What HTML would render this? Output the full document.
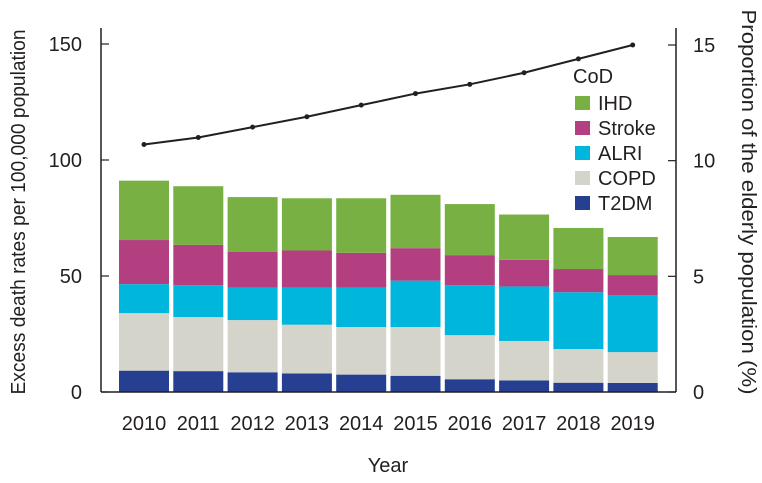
<!DOCTYPE html>
<html><head><meta charset="utf-8"><style>
html,body{margin:0;padding:0;background:#fff;}
svg{display:block;font-family:"Liberation Sans",sans-serif;}
</style></head><body>
<svg id="chart" width="762" height="483"></svg>
<script>
const years=["2010","2011","2012","2013","2014","2015","2016","2017","2018","2019"];
const t2dm=[9.2,9,8.5,8,7.5,7,5.5,5,4,3.9];
const copd=[24.8,23.3,22.5,21,20.5,21,19,17,14.5,13.3];
const alri=[12.5,13.7,14,16,17,20,21.5,23.5,24.5,24.6];
const stroke=[19,17.4,15.5,16,15,14,13,11.5,10,8.6];
const ihd=[25.6,25.3,23.5,22.5,23.5,23,22,19.5,17.7,16.4];
const elderly=[10.7,11.0,11.45,11.9,12.4,12.9,13.3,13.8,14.4,15.0];
const leftTicks=[0,50,100,150];
const rightTicks=[0,5,10,15];
const seriesNames=["IHD","Stroke","ALRI","COPD","T2DM"];
const seriesColors=["#78b043","#b33f80","#00b6dd","#d4d4cb","#263f90"];

const NS="http://www.w3.org/2000/svg";
const svg=document.getElementById('chart');
function el(t,a,txt){const e=document.createElementNS(NS,t);for(const k in a)e.setAttribute(k,a[k]);if(txt!==undefined)e.textContent=txt;svg.appendChild(e);return e;}
const y0=392,pxPerUnit=(392-160)/100;
function yL(v){return y0-v*pxPerUnit;}
function yR(v){return y0-v*(392-45)/15;}
function xC(i){return 144+i*54.3;}
const bw=50;
const FS=20;

const stacks=[t2dm,copd,alri,stroke,ihd];
const stackColors=["#263f90","#d4d4cb","#00b6dd","#b33f80","#78b043"];
const stackNames=["t2dm","copd","alri","stroke","ihd"];
years.forEach((yr,i)=>{
  let base=0;
  stacks.forEach((s,k)=>{
    const r=el('rect',{x:xC(i)-bw/2,y:yL(base+s[i]),width:bw,height:yL(base)-yL(base+s[i]),fill:stackColors[k]});
    
    
    base+=s[i];
  });
  const t=el('text',{x:xC(i),y:430,'text-anchor':'middle','font-size':FS,fill:'#231f20'},yr);
  
  
});
const la=el('line',{x1:101,y1:28,x2:101,y2:392,stroke:'#231f20','stroke-width':1.5});

const ba=el('line',{x1:101,y1:392,x2:676,y2:392,stroke:'#231f20','stroke-width':1.5});

const ra=el('line',{x1:676,y1:28,x2:676,y2:392,stroke:'#231f20','stroke-width':1.5});

leftTicks.forEach(v=>{
  el('line',{x1:101,y1:yL(v),x2:109,y2:yL(v),stroke:'#231f20','stroke-width':1.2});
  const t=el('text',{x:82,y:yL(v)+7,'text-anchor':'end','font-size':FS,fill:'#231f20'},v);
  
});
rightTicks.forEach(v=>{
  el('line',{x1:668,y1:yR(v),x2:676,y2:yR(v),stroke:'#231f20','stroke-width':1.2});
  const t=el('text',{x:693,y:yR(v)+7,'text-anchor':'start','font-size':FS,fill:'#231f20'},v);
  
});
const pts=elderly.map((v,i)=>xC(i)+','+yR(v)).join(' ');
const pl=el('polyline',{points:pts,fill:'none',stroke:'#231f20','stroke-width':2});

elderly.forEach((v,i)=>{
  const c=el('circle',{cx:xC(i),cy:yR(v),r:2.5,fill:'#231f20'});
  
});
const lt=el('text',{x:573,y:83,'font-size':FS,fill:'#231f20'},'CoD');

seriesNames.forEach((n,k)=>{
  const y=96+k*25;
  const r=el('rect',{x:575,y:y,width:15,height:14,fill:seriesColors[k]});
  
  const t=el('text',{x:598,y:y+14,'font-size':FS,fill:'#231f20'},n);
  
});
const yt=el('text',{x:0,y:0,'text-anchor':'middle','font-size':FS,fill:'#231f20',textLength:365,lengthAdjust:'spacingAndGlyphs',transform:'translate(25,212) rotate(-90)'},'Excess death rates per 100,000 population');

const rt=el('text',{x:0,y:0,'text-anchor':'middle','font-size':FS,fill:'#231f20',textLength:385,lengthAdjust:'spacingAndGlyphs',transform:'translate(742,202) rotate(90)'},'Proportion of the elderly population (%)');

const xt=el('text',{x:388,y:472,'text-anchor':'middle','font-size':FS,fill:'#231f20'},'Year');

</script>
</body></html>
